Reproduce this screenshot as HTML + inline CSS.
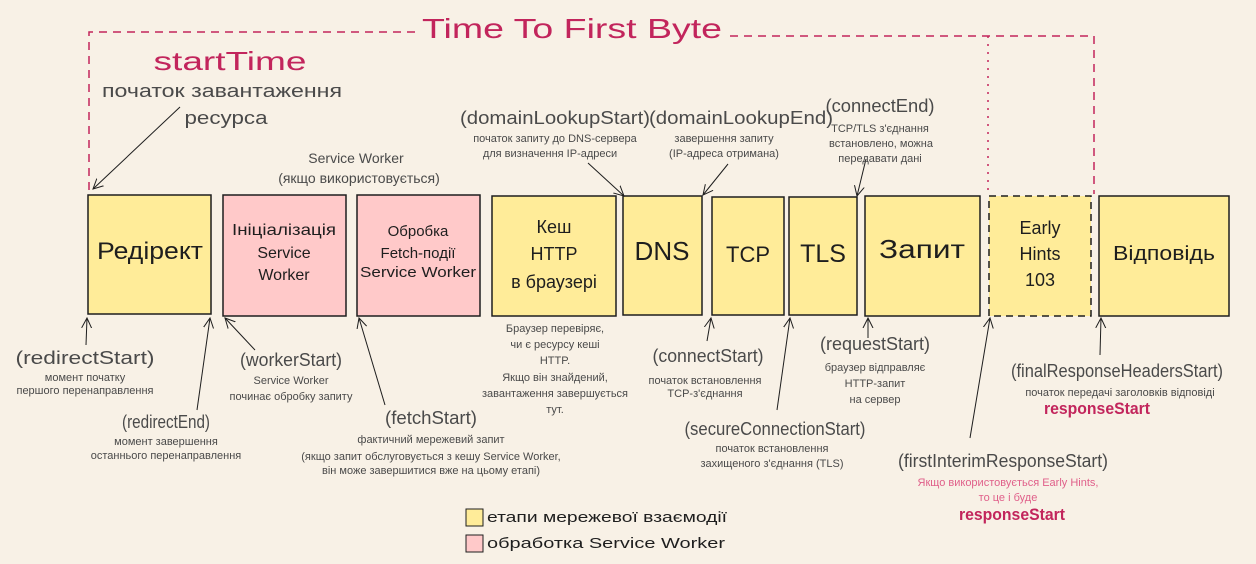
<!DOCTYPE html>
<html><head><meta charset="utf-8"><style>
html,body{margin:0;padding:0;background:#f8f1e6;}
svg{display:block;font-family:"Liberation Sans","DejaVu Sans",sans-serif;}
.h{font-size:18px;fill:#4a4a4a;text-anchor:middle;}
.s{font-size:11px;fill:#4a4a4a;text-anchor:middle;}
.b{fill:#1e1e1e;text-anchor:middle;}
.p{fill:#c2255c;}
</style></head><body>
<svg width="1256" height="564" viewBox="0 0 1256 564" xmlns="http://www.w3.org/2000/svg">
<defs>
<marker id="a" markerWidth="12" markerHeight="12" refX="10" refY="6" orient="auto" markerUnits="userSpaceOnUse">
<path d="M0,1 L10,6 L0,11" fill="none" stroke="#1e1e1e" stroke-width="1"/>
</marker>
</defs>
<rect width="1256" height="564" fill="#f8f1e6"/>
<!-- TTFB bracket -->
<g stroke="#c2255c" stroke-width="1.5" fill="none" stroke-dasharray="8,6">
<path d="M89,190 L89,32 L415,32"/>
<path d="M730,36 L1094,36 L1094,194"/>
</g>
<path d="M988,36 L988,196" stroke="#c2255c" stroke-width="1.5" stroke-dasharray="2,6" fill="none"/>
<text x="572" y="38" class="p" font-size="28" text-anchor="middle" textLength="300" lengthAdjust="spacingAndGlyphs">Time To First Byte</text>
<text x="230" y="70" class="p" font-size="26" text-anchor="middle" textLength="153" lengthAdjust="spacingAndGlyphs">startTime</text>
<text x="222" y="97" class="h" textLength="240" lengthAdjust="spacingAndGlyphs">початок завантаження</text>
<text x="226" y="124" class="h" textLength="83" lengthAdjust="spacingAndGlyphs">ресурса</text>
<text x="356" y="163" class="h" font-size="14" style="font-size:14px">Service Worker</text>
<text x="359" y="183" class="h" style="font-size:14px">(якщо використовується)</text>

<!-- boxes -->
<g stroke="#1e1e1e" stroke-width="1.5">
<rect x="88" y="195" width="123" height="119" fill="#ffec99"/>
<rect x="223" y="195" width="123" height="121" fill="#ffc9c9"/>
<rect x="357" y="195" width="123" height="121" fill="#ffc9c9"/>
<rect x="492" y="196" width="124" height="120" fill="#ffec99"/>
<rect x="623" y="196" width="79" height="119" fill="#ffec99"/>
<rect x="712" y="197" width="72" height="118" fill="#ffec99"/>
<rect x="789" y="197" width="68" height="118" fill="#ffec99"/>
<rect x="865" y="196" width="115" height="120" fill="#ffec99"/>
<rect x="989" y="196" width="102" height="120" fill="#ffec99" stroke-dasharray="7,5"/>
<rect x="1099" y="196" width="130" height="120" fill="#ffec99"/>
</g>
<text x="150" y="259" class="b" font-size="24" textLength="106" lengthAdjust="spacingAndGlyphs">Редірект</text>
<text x="284" y="235" class="b" font-size="16" textLength="104" lengthAdjust="spacingAndGlyphs">Ініціалізація</text>
<text x="284" y="258" class="b" font-size="16">Service</text>
<text x="284" y="280" class="b" font-size="16">Worker</text>
<text x="418" y="236" class="b" font-size="15">Обробка</text>
<text x="418" y="258" class="b" font-size="15">Fetch-події</text>
<text x="418" y="277" class="b" font-size="15" textLength="116" lengthAdjust="spacingAndGlyphs">Service Worker</text>
<text x="554" y="233" class="b" font-size="18">Кеш</text>
<text x="554" y="260" class="b" font-size="18">HTTP</text>
<text x="554" y="288" class="b" font-size="18">в браузері</text>
<text x="662" y="260" class="b" font-size="26">DNS</text>
<text x="748" y="262" class="b" font-size="22">TCP</text>
<text x="823" y="262" class="b" font-size="25">TLS</text>
<text x="922" y="258" class="b" font-size="26" textLength="86" lengthAdjust="spacingAndGlyphs">Запит</text>
<text x="1040" y="234" class="b" font-size="18">Early</text>
<text x="1040" y="260" class="b" font-size="18">Hints</text>
<text x="1040" y="286" class="b" font-size="18">103</text>
<text x="1164" y="260" class="b" font-size="20" textLength="102" lengthAdjust="spacingAndGlyphs">Відповідь</text>

<!-- arrows -->
<g stroke="#1e1e1e" stroke-width="1" fill="none" marker-end="url(#a)">
<path d="M180,107 L93,189"/>
<path d="M86,345 L87,318"/>
<path d="M197,410 L210,318"/>
<path d="M255,350 L225,318"/>
<path d="M385,405 L359,318"/>
<path d="M588,163 L624,196"/>
<path d="M728,164 L703,195"/>
<path d="M866,159 L857,196"/>
<path d="M707,341 L711,318"/>
<path d="M777,410 L790,318"/>
<path d="M868,338 L868,318"/>
<path d="M970,438 L990,318"/>
<path d="M1100,355 L1101,318"/>
</g>

<!-- top labels -->
<text x="555" y="124" class="h" textLength="190" lengthAdjust="spacingAndGlyphs">(domainLookupStart)</text>
<text x="555" y="142" class="s">початок запиту до DNS-сервера</text>
<text x="550" y="157" class="s">для визначення IP-адреси</text>
<text x="741" y="124" class="h" textLength="184" lengthAdjust="spacingAndGlyphs">(domainLookupEnd)</text>
<text x="724" y="142" class="s">завершення запиту</text>
<text x="724" y="157" class="s">(IP-адреса отримана)</text>
<text x="880" y="112" class="h" textLength="109" lengthAdjust="spacingAndGlyphs">(connectEnd)</text>
<text x="880" y="132" class="s">TCP/TLS з'єднання</text>
<text x="881" y="147" class="s">встановлено, можна</text>
<text x="880" y="162" class="s">передавати дані</text>

<!-- bottom labels -->
<text x="555" y="332" class="s">Браузер перевіряє,</text>
<text x="555" y="348" class="s">чи є ресурсу кеші</text>
<text x="555" y="364" class="s">HTTP.</text>
<text x="555" y="381" class="s">Якщо він знайдений,</text>
<text x="555" y="397" class="s">завантаження завершується</text>
<text x="555" y="413" class="s">тут.</text>

<text x="85" y="364" class="h" textLength="139" lengthAdjust="spacingAndGlyphs">(redirectStart)</text>
<text x="85" y="381" class="s">момент початку</text>
<text x="85" y="394" class="s">першого перенаправлення</text>
<text x="166" y="428" class="h" textLength="88" lengthAdjust="spacingAndGlyphs">(redirectEnd)</text>
<text x="166" y="445" class="s">момент завершення</text>
<text x="166" y="459" class="s">останнього перенаправлення</text>
<text x="291" y="366" class="h" textLength="102" lengthAdjust="spacingAndGlyphs">(workerStart)</text>
<text x="291" y="384" class="s">Service Worker</text>
<text x="291" y="400" class="s">починає обробку запиту</text>
<text x="431" y="424" class="h" textLength="92" lengthAdjust="spacingAndGlyphs">(fetchStart)</text>
<text x="431" y="443" class="s">фактичний мережевий запит</text>
<text x="431" y="460" class="s">(якщо запит обслуговується з кешу Service Worker,</text>
<text x="431" y="474" class="s">він може завершитися вже на цьому етапі)</text>
<text x="708" y="362" class="h" textLength="111" lengthAdjust="spacingAndGlyphs">(connectStart)</text>
<text x="705" y="384" class="s">початок встановлення</text>
<text x="705" y="397" class="s">TCP-з'єднання</text>
<text x="875" y="350" class="h" textLength="110" lengthAdjust="spacingAndGlyphs">(requestStart)</text>
<text x="875" y="371" class="s">браузер відправляє</text>
<text x="875" y="387" class="s">HTTP-запит</text>
<text x="875" y="403" class="s">на сервер</text>
<text x="775" y="435" class="h" textLength="181" lengthAdjust="spacingAndGlyphs">(secureConnectionStart)</text>
<text x="772" y="452" class="s">початок встановлення</text>
<text x="772" y="467" class="s">захищеного з'єднання (TLS)</text>
<text x="1003" y="467" class="h" textLength="210" lengthAdjust="spacingAndGlyphs">(firstInterimResponseStart)</text>
<text x="1008" y="486" class="s" style="fill:#e0608a">Якщо використовується Early Hints,</text>
<text x="1008" y="501" class="s" style="fill:#e0608a">то це і буде</text>
<text x="1012" y="520" class="p" font-size="17" font-weight="bold" text-anchor="middle" textLength="106" lengthAdjust="spacingAndGlyphs">responseStart</text>
<text x="1117" y="377" class="h" textLength="212" lengthAdjust="spacingAndGlyphs">(finalResponseHeadersStart)</text>
<text x="1120" y="396" class="s">початок передачі заголовків відповіді</text>
<text x="1097" y="414" class="p" font-size="17" font-weight="bold" text-anchor="middle" textLength="106" lengthAdjust="spacingAndGlyphs">responseStart</text>

<!-- legend -->
<rect x="466" y="509" width="17" height="17" fill="#ffec99" stroke="#1e1e1e" stroke-width="1"/>
<rect x="466" y="535" width="17" height="17" fill="#ffc9c9" stroke="#1e1e1e" stroke-width="1"/>
<text x="487" y="522" font-size="15" fill="#1e1e1e" textLength="240" lengthAdjust="spacingAndGlyphs">етапи мережевої взаємодії</text>
<text x="487" y="548" font-size="15" fill="#1e1e1e" textLength="238" lengthAdjust="spacingAndGlyphs">обработка Service Worker</text>
</svg>
</body></html>
